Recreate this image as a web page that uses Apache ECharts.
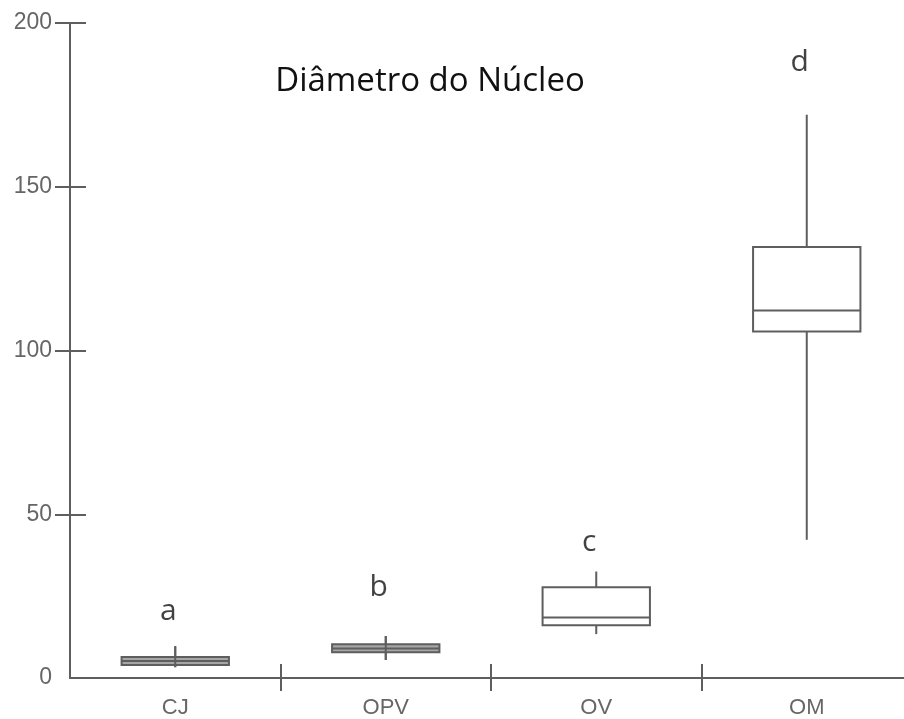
<!DOCTYPE html>
<html>
<head>
<meta charset="utf-8">
<script src="https://cdn.jsdelivr.net/npm/echarts@6/dist/echarts.min.js"></script>
<style>html,body{margin:0;padding:0;background:#fff;}#c{width:904px;height:719px;}</style>
</head>
<body>
<div id="c"></div>
<script>
// Data
var categories = ['CJ', 'OPV', 'OV', 'OM'];
var whiskerLow = [3.3, 5.5, 13.4, 42.2];
var q1 = [4.0, 7.9, 16.1, 105.8];
var median = [5.2, 9.0, 18.5, 112.2];
var q3 = [6.4, 10.3, 27.7, 131.6];
var whiskerHigh = [9.7, 12.8, 32.5, 172.0];
var groupLetters = ['a', 'b', 'c', 'd'];
var letterHeights = [20.3, 27.5, 41.5, 188];
var yTickLabels = [0, 50, 100, 150, 200];
var yTicks = [50, 100, 150, 200];
var xBoundaries = [0.5, 1.5, 2.5];
var boxFill = ['#a6a6a6', '#a6a6a6', '#ffffff', '#ffffff'];
var titleText = 'Diâmetro do Núcleo';

var boxData = categories.map(function (c, i) {
  return [i, whiskerLow[i], q1[i], median[i], q3[i], whiskerHigh[i]];
});
var letterData = categories.map(function (c, i) {
  return [i, letterHeights[i]];
});

var lineColor = '#5e5e5e';
var chart = echarts.init(document.getElementById('c'));

function renderBox(params, api) {
  var i = api.value(0);
  var x = api.coord([i, 0])[0];
  var w = api.size([1, 0])[0] * 0.51;
  var yLow = api.coord([i, api.value(1)])[1];
  var yQ1 = api.coord([i, api.value(2)])[1];
  var yMed = api.coord([i, api.value(3)])[1];
  var yQ3 = api.coord([i, api.value(4)])[1];
  var yHigh = api.coord([i, api.value(5)])[1];
  var st = { stroke: lineColor, lineWidth: 2, fill: null };
  var children = [
    { type: 'line', shape: { x1: x, y1: yHigh, x2: x, y2: yQ3 }, style: st },
    { type: 'line', shape: { x1: x, y1: yQ1, x2: x, y2: yLow }, style: st },
    { type: 'rect', shape: { x: x - w / 2, y: yQ3, width: w, height: yQ1 - yQ3 },
      style: { stroke: lineColor, lineWidth: 2, fill: boxFill[i] } },
    { type: 'line', shape: { x1: x - w / 2, y1: yMed, x2: x + w / 2, y2: yMed }, style: st }
  ];
  if (boxFill[i] !== '#ffffff') {
    children.push({ type: 'line', shape: { x1: x, y1: yHigh, x2: x, y2: yLow }, style: st });
  }
  return { type: 'group', children: children };
}

var X_MIN = -0.5, X_MAX = 3.462;

chart.setOption({
  animation: false,
  backgroundColor: '#fff',
  grid: { left: 70, top: 23, right: 0, bottom: 39, containLabel: false },
  graphic: [{
    type: 'text', x: 430, y: 82,
    style: { text: titleText, fill: '#111', font: '33px "Open Sans"', textAlign: 'center', textVerticalAlign: 'middle' }
  }],
  xAxis: [{
    type: 'value', min: X_MIN, max: X_MAX, position: 'bottom',
    axisLine: { show: true, onZero: false, lineStyle: { color: lineColor, width: 2 } },
    axisTick: { show: true, customValues: xBoundaries, length: 13, lineStyle: { color: lineColor, width: 2 } },
    axisLabel: { show: true, customValues: [0, 1, 2, 3], margin: 19,
      formatter: function (v) { return categories[Math.round(v)] || ''; }, color: '#666', fontFamily: 'Liberation Sans', fontSize: 22 },
    splitLine: { show: false }
  }, {
    type: 'value', min: X_MIN, max: X_MAX, position: 'bottom',
    axisLine: { show: false, onZero: false },
    axisTick: { show: true, inside: true, customValues: xBoundaries, length: 14, lineStyle: { color: lineColor, width: 2 } },
    axisLabel: { show: false },
    splitLine: { show: false }
  }],
  yAxis: [{
    type: 'value', min: 0, max: 200, position: 'left',
    axisLine: { show: true, onZero: false, lineStyle: { color: lineColor, width: 2 } },
    axisTick: { show: true, customValues: yTicks, length: 15, lineStyle: { color: lineColor, width: 2 } },
    axisLabel: { customValues: yTickLabels, margin: 18, color: '#666', fontFamily: 'Liberation Sans', fontSize: 23 },
    splitLine: { show: false }
  }, {
    type: 'value', min: 0, max: 200, position: 'left', offset: 0,
    axisLine: { show: false, onZero: false },
    axisTick: { show: true, inside: true, customValues: yTicks, length: 16, lineStyle: { color: lineColor, width: 2 } },
    axisLabel: { show: false },
    splitLine: { show: false }
  }],
  series: [{
    type: 'custom',
    xAxisIndex: 0, yAxisIndex: 0,
    renderItem: renderBox,
    data: boxData,
    encode: { x: 0, y: [1, 2, 3, 4, 5] }
  }, {
    type: 'scatter',
    xAxisIndex: 0, yAxisIndex: 0,
    symbolSize: 1,
    itemStyle: { color: 'rgba(0,0,0,0)' },
    data: letterData,
    label: {
      show: true, position: 'inside', offset: [-7, 0],
      formatter: function (p) { return groupLetters[p.dataIndex]; },
      color: '#111', fontFamily: 'Open Sans', fontSize: 30
    }
  }]
});
</script>
</body>
</html>
